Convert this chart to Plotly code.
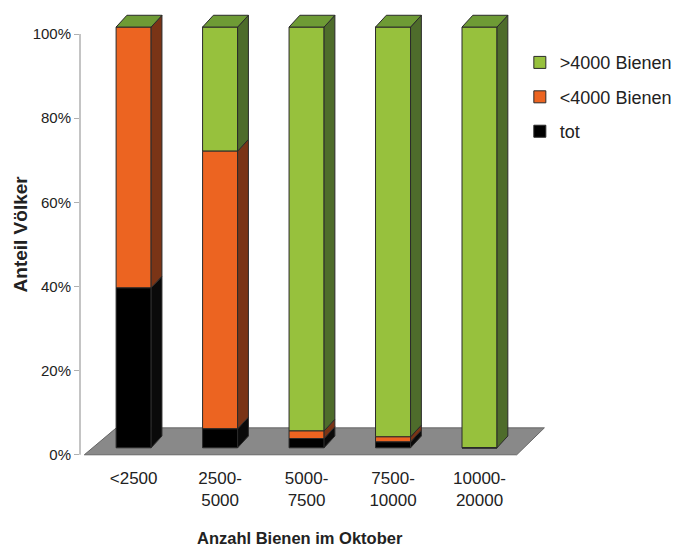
import plotly.graph_objects as go

# ---- data ----
categories = ["&lt;2500", "2500-<br>5000", "5000-<br>7500", "7500-<br>10000", "10000-<br>20000"]
series_names = ["tot", "&lt;4000 Bienen", "&gt;4000 Bienen"]
tot = [38, 4.5, 2.2, 1.4, 0]
lt4000 = [62, 66, 1.8, 1.2, 0]
gt4000 = [0, 29.5, 96, 97.4, 100]
y_ticks = [0, 20, 40, 60, 80, 100]
y_tick_labels = ["0%", "20%", "40%", "60%", "80%", "100%"]

# ---- style ----
front_colors = ["#000000", "#ec6421", "#97c13d"]
side_colors = ["#0a0a0a", "#7a3416", "#4e6c2b"]
top_colors = ["#1a1a1a", "#b8501c", "#6e9b35"]
edge = "#2a2a2a"
FONT = "Liberation Sans"
bar_w = 0.405
dx = 0.125      # 3D depth (x, category units)
dy = 2.8        # 3D depth (y, percent units)
lift = 1.66     # front face lifted above floor front edge

xs = list(range(len(categories)))
series = [tot, lt4000, gt4000]

fig = go.Figure()

# floor (decorative)
fig.add_shape(type="path",
              path="M -0.57 0 L -0.2 6.4 L 4.75 6.4 L 4.43 0 Z",
              xref="x", yref="y", fillcolor="#898989",
              line=dict(color="#666666", width=1), layer="below")

# cumulative bases
bases = []
cum = [lift] * len(xs)
for s in series:
    bases.append(cum[:])
    cum = [c + v for c, v in zip(cum, s)]
tops = cum

# side faces
for si, s in enumerate(series):
    for i, x in enumerate(xs):
        if s[i] <= 0:
            continue
        y0 = bases[si][i]
        y1 = y0 + s[i]
        xr = x + bar_w / 2
        fig.add_trace(go.Scatter(
            x=[xr, xr, xr + dx, xr + dx, xr],
            y=[y0, y1, y1 + dy, y0 + dy, y0],
            mode="lines", fill="toself", fillcolor=side_colors[si],
            line=dict(color=edge, width=1), hoverinfo="skip", showlegend=False))

# top faces (colour of topmost series)
for i, x in enumerate(xs):
    xl = x - bar_w / 2
    xr = x + bar_w / 2
    t = tops[i]
    fig.add_trace(go.Scatter(
        x=[xl, xr, xr + dx, xl + dx, xl],
        y=[t, t, t + dy, t + dy, t],
        mode="lines", fill="toself", fillcolor=top_colors[2],
        line=dict(color=edge, width=1), hoverinfo="skip", showlegend=False))

# front faces (added top series first so the legend lists it first)
for si in reversed(range(len(series))):
    fig.add_trace(go.Bar(
        x=xs, y=series[si], base=bases[si], width=bar_w, name=series_names[si],
        marker=dict(color=front_colors[si], line=dict(color=edge, width=1)),
        legendgroup=series_names[si]))

# y axis line (0..100 only)
fig.add_shape(type="line", xref="paper", yref="y", x0=0, x1=0, y0=0, y1=100,
              line=dict(color="#b0b0b0", width=1.5))

fig.update_layout(
    width=683, height=553,
    margin=dict(l=72, r=125, t=5, b=102, autoexpand=False),
    plot_bgcolor="white", paper_bgcolor="white",
    barmode="overlay",
    font=dict(family=FONT, color="#222222"),
    xaxis=dict(range=[-0.62, 5.0], tickvals=xs, ticktext=categories,
               showline=False, showgrid=False, zeroline=False, ticks="",
               ticklabelstandoff=7,
               tickfont=dict(size=17, family=FONT, color="#222222")),
    yaxis=dict(range=[-1, 105], tickvals=y_ticks, ticktext=y_tick_labels,
               showline=False, showgrid=False, zeroline=False,
               ticks="outside", ticklen=5, tickcolor="#b0b0b0",
               tickfont=dict(size=15, family=FONT, color="#222222")),
    legend=dict(x=0.905, y=0.93, xanchor="left", yanchor="top",
                traceorder="grouped", tracegroupgap=8,
                font=dict(size=18, family=FONT, color="#222222"),
                bgcolor="rgba(0,0,0,0)", itemwidth=30),
    showlegend=True,
    annotations=[
        dict(text="<b>Anteil Völker</b>", xref="paper", yref="paper",
             x=-0.123, y=0.504, textangle=-90, showarrow=False,
             font=dict(size=19, family=FONT, color="#222222"),
             xanchor="center", yanchor="middle"),
        dict(text="<b>Anzahl Bienen im Oktober</b>", xref="paper", yref="paper",
             x=0.452, y=-0.177, showarrow=False,
             font=dict(size=16.5, family=FONT, color="#222222"),
             xanchor="center", yanchor="middle"),
    ],
)

fig.write_html("out.html")
